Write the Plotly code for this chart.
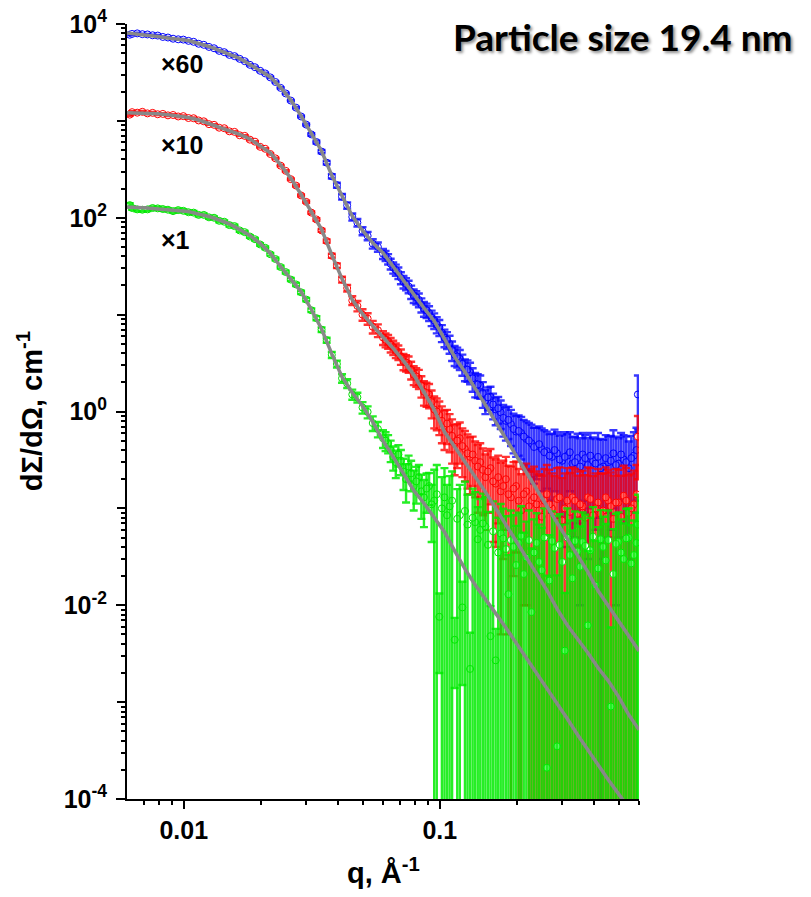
import math
import plotly.graph_objects as go

# ---------------- data ----------------
q = [0.00615, 0.006283, 0.006579, 0.006889, 0.007214, 0.007554, 0.007910, 0.008282, 0.008673, 0.009081,
     0.009510, 0.009958, 0.01043, 0.01092, 0.01143, 0.01197, 0.01254, 0.01313, 0.01375, 0.01439,
     0.01507, 0.01578, 0.01653, 0.01730, 0.01812, 0.01897, 0.01987, 0.02080, 0.02178, 0.02281,
     0.02389, 0.02501, 0.02619, 0.02743, 0.02872, 0.03007, 0.03149, 0.03297, 0.03453, 0.03615,
     0.03786, 0.03964, 0.04151, 0.04347, 0.04551, 0.04766, 0.04991, 0.05226, 0.05472, 0.05730,
     0.06000, 0.06283, 0.06579, 0.06889, 0.07214, 0.07554, 0.07910, 0.08282, 0.08673, 0.09081,
     0.09510, 0.09958, 0.1043, 0.1092, 0.1143, 0.1197, 0.1254, 0.1313, 0.1375, 0.1439,
     0.1507, 0.1578, 0.1653, 0.1730, 0.1812, 0.1897, 0.1987, 0.2080, 0.2178, 0.2281,
     0.2389, 0.2501, 0.2619, 0.2743, 0.2872, 0.3007, 0.3149, 0.3297, 0.3453, 0.3615,
     0.3786, 0.3964, 0.4151, 0.4347, 0.4551, 0.4766, 0.4991, 0.5226, 0.5472, 0.5730,
     0.5940]

# extra (interleaved) high-q points, where the measured data are dense
q_hi = [0.06140, 0.06429, 0.06732, 0.07049, 0.07382, 0.07730, 0.08094, 0.08475, 0.08875, 0.09292,
        0.09731, 0.1019, 0.1067, 0.1117, 0.1170, 0.1225, 0.1283, 0.1344, 0.1407, 0.1473,
        0.1542, 0.1615, 0.1691, 0.1770, 0.1854, 0.1941, 0.2033, 0.2128, 0.2229, 0.2334,
        0.2445, 0.2559, 0.2680, 0.2807, 0.2939, 0.3077, 0.3222, 0.3374, 0.3533, 0.3699,
        0.3874, 0.4056, 0.4248, 0.4448, 0.4657, 0.4877, 0.5107, 0.5348, 0.5599, 0.5863]

blue_I = [7750, 7900, 8000, 7850, 7800, 7650, 7600, 7350, 7250, 7050,
          6950, 6900, 6700, 6550, 6250, 6100, 5800, 5620, 5280, 5120,
          4800, 4660, 4370, 4130, 3790, 3580, 3290, 3090, 2810, 2520,
          2190, 1920, 1620, 1370, 1110, 915, 725, 605, 482, 370,
          268, 217, 165, 134, 102, 89, 73, 65, 54, 50,
          42.5, 37.5, 30.5, 27, 21.8, 19.5, 15.7, 14.2, 11.5, 10.4,
          8.7, 7.4, 5.8, 5.0, 3.85, 3.5, 2.75, 2.55, 1.95, 1.85,
          1.30, 1.42, 1.05, 0.98, 0.80, 0.74, 0.62, 0.60, 0.52, 0.47,
          0.44, 0.41, 0.39, 0.34, 0.37, 0.31, 0.35, 0.29, 0.33, 0.36,
          0.28, 0.31, 0.34, 0.27, 0.30, 0.37, 0.29, 0.32, 0.26, 0.35,
          1.5]
blue_err = [115, 115, 115, 112, 110, 108, 106, 104, 102, 100,
            98, 96, 94, 92, 88, 86, 82, 80, 76, 74,
            70, 68, 64, 60, 56, 53, 49, 46, 42, 38,
            34, 30, 26, 24, 23, 22, 22, 20, 18, 16,
            14, 13, 11, 10, 8.5, 8, 7, 6.5, 6, 5.5,
            5, 4.6, 4, 3.7, 3.2, 2.9, 2.5, 2.3, 2.0, 1.8,
            1.6, 1.4, 1.2, 1.05, 0.9, 0.82, 0.7, 0.64, 0.55, 0.5,
            0.36, 0.38, 0.33, 0.32, 0.3, 0.3, 0.28, 0.28, 0.27, 0.26,
            0.24, 0.26, 0.23, 0.25, 0.24, 0.27, 0.23, 0.25, 0.26, 0.24,
            0.25, 0.23, 0.26, 0.24, 0.25, 0.27, 0.24, 0.25, 0.23, 0.26,
            0.85]
blue_I_hi = [40.5, 33.5, 29.0, 24.0, 20.8, 17.2, 15.1, 12.6, 11.1, 9.3,
             7.9, 6.5, 5.5, 4.3, 3.7, 3.1, 2.7, 2.2, 1.9, 1.55,
             1.40, 1.18, 1.08, 0.86, 0.82, 0.66, 0.63, 0.55, 0.50, 0.43,
             0.46, 0.38, 0.35, 0.40, 0.32, 0.34, 0.38, 0.30, 0.27, 0.33,
             0.35, 0.29, 0.26, 0.33, 0.31, 0.28, 0.36, 0.30, 0.33, 0.40]
blue_err_hi = [4.8, 4.3, 3.8, 3.4, 3.0, 2.7, 2.4, 2.1, 1.9, 1.7,
               1.5, 1.3, 1.1, 0.98, 0.86, 0.76, 0.67, 0.6, 0.52, 0.46,
               0.37, 0.35, 0.33, 0.31, 0.3, 0.29, 0.28, 0.27, 0.26, 0.25,
               0.24, 0.26, 0.23, 0.25, 0.24, 0.27, 0.23, 0.25, 0.26, 0.24,
               0.25, 0.23, 0.26, 0.24, 0.25, 0.27, 0.24, 0.25, 0.23, 0.28]

red_I = [1160, 1230, 1215, 1240, 1195, 1210, 1170, 1180, 1140, 1150,
         1110, 1120, 1070, 1065, 1010, 990, 925, 910, 850, 840,
         780, 770, 710, 700, 640, 610, 540, 515, 455, 410,
         345, 305, 250, 215, 170, 146, 113, 96, 74, 57.5,
         40.5, 32, 23, 18.8, 14.0, 12.3, 10.0, 9.1, 7.5, 6.9,
         5.8, 5.3, 4.6, 4.1, 3.3, 3.1, 2.4, 2.2, 1.6, 1.5,
         1.05, 0.92, 0.71, 0.66, 0.47, 0.53, 0.41, 0.34, 0.31, 0.30,
         0.21, 0.26, 0.18, 0.15, 0.20, 0.13, 0.17, 0.095, 0.15, 0.12,
         0.11, 0.082, 0.14, 0.10, 0.125, 0.075, 0.12, 0.13, 0.088, 0.105,
         0.13, 0.085, 0.115, 0.095, 0.12, 0.078, 0.115, 0.135, 0.09, 0.11,
         0.55]
red_err = [30, 28, 27, 26, 25, 24, 23, 22, 21, 21,
           20, 19, 18, 17, 16, 15, 14, 13, 12, 11.5,
           11, 10.5, 10, 9.5, 9, 8.5, 8, 7.5, 7, 6.5,
           6, 5.5, 5, 4.5, 4, 3.6, 3.4, 3.0, 2.6, 2.3,
           2.0, 1.8, 1.6, 1.5, 1.45, 1.5, 1.35, 1.25, 1.12, 1.04,
           0.95, 0.87, 0.78, 0.7, 0.63, 0.59, 0.53, 0.49, 0.45, 0.42,
           0.38, 0.35, 0.31, 0.28, 0.25, 0.24, 0.22, 0.2, 0.18, 0.17,
           0.15, 0.15, 0.14, 0.145, 0.14, 0.14, 0.135, 0.13, 0.14, 0.135,
           0.13, 0.135, 0.14, 0.13, 0.135, 0.13, 0.14, 0.135, 0.13, 0.14,
           0.135, 0.13, 0.14, 0.135, 0.13, 0.14, 0.135, 0.14, 0.13, 0.135,
           0.35]
red_I_hi = [5.5, 4.9, 4.3, 3.7, 3.2, 2.7, 2.3, 1.85, 1.55, 1.25,
            1.0, 0.80, 0.75, 0.56, 0.50, 0.44, 0.37, 0.36, 0.27, 0.25,
            0.24, 0.19, 0.21, 0.17, 0.14, 0.16, 0.12, 0.14, 0.105, 0.13,
            0.095, 0.12, 0.11, 0.085, 0.13, 0.10, 0.092, 0.12, 0.11, 0.08,
            0.125, 0.10, 0.088, 0.13, 0.105, 0.115, 0.082, 0.12, 0.10, 0.14]
red_err_hi = [0.91, 0.83, 0.74, 0.67, 0.61, 0.56, 0.5, 0.46, 0.43, 0.4,
              0.36, 0.33, 0.29, 0.27, 0.24, 0.23, 0.21, 0.19, 0.18, 0.165,
              0.15, 0.145, 0.14, 0.14, 0.135, 0.14, 0.135, 0.13, 0.135, 0.14,
              0.13, 0.135, 0.14, 0.13, 0.135, 0.13, 0.14, 0.135, 0.13, 0.14,
              0.135, 0.13, 0.14, 0.135, 0.13, 0.14, 0.135, 0.14, 0.13, 0.14]

green_I = [135, 126, 122, 121, 122, 126, 125, 123, 121, 117,
           120, 118, 114, 113, 107, 107, 101, 100, 93, 91,
           84, 82, 74, 71, 64, 60, 53, 49, 42, 37.5,
           31, 27.5, 23, 20.5, 17.0, 14.3, 11.1, 9.2, 7.0, 5.45,
           3.85, 3.1, 2.2, 1.95, 1.5, 1.4, 1.10, 0.99, 0.76, 0.66,
           0.53, 0.47, 0.34, 0.36, 0.24, 0.27, 0.17, 0.21, 0.13, 0.17,
           0.12, 0.0076, 0.13, 0.105, 0.0044, 0.085, 0.094, 0.0022, 0.072, 0.060,
           0.065, 0.0048, 0.0027, 0.055, 0.038, 0.047, 0.026, 0.052, 0.031, 0.0085,
           0.044, 0.023, 0.00021, 0.046, 0.00035, 0.028, 0.050, 0.019, 0.036, 0.045,
           0.0062, 0.051, 0.024, 0.040, 0.047, 0.021, 0.045, 0.030, 0.050, 0.033,
           0.068]
green_err = [6, 5.5, 5.2, 5, 5, 5, 4.9, 4.8, 4.7, 4.6,
             4.5, 4.4, 4.3, 4.2, 4.0, 3.8, 3.6, 3.4, 3.2, 3.0,
             2.8, 2.6, 2.4, 2.2, 2.0, 1.8, 1.6, 1.5, 1.35, 1.2,
             1.05, 0.95, 0.85, 0.75, 0.65, 0.57, 0.5, 0.44, 0.38, 0.33,
             0.28, 0.25, 0.22, 0.2, 0.18, 0.16, 0.15, 0.14, 0.13, 0.12,
             0.11, 0.10, 0.095, 0.09, 0.085, 0.08, 0.075, 0.07, 0.066, 0.062,
             0.13, 0.0056, 0.13, 0.11, 0.003, 0.09, 0.095, 0.003, 0.075, 0.065,
             0.066, 0.005, 0.003, 0.056, 0.045, 0.048, 0.04, 0.053, 0.042, 0.03,
             0.045, 0.04, 0.02, 0.047, 0.02, 0.04, 0.05, 0.04, 0.042, 0.046,
             0.03, 0.052, 0.04, 0.042, 0.048, 0.04, 0.046, 0.04, 0.05, 0.042,
             0.07]
green_I_hi = [0.50, 0.40, 0.30, 0.31, 0.20, 0.23, 0.19, 0.15, 0.16, 0.11,
              0.14, 0.10, 0.085, 0.12, 0.078, 0.0095, 0.068, 0.080, 0.048, 0.070,
              0.042, 0.058, 0.035, 0.049, 0.0130, 0.040, 0.044, 0.021, 0.047, 0.035,
              0.028, 0.050, 0.018, 0.039, 0.042, 0.0034, 0.033, 0.046, 0.025, 0.041,
              0.037, 0.016, 0.048, 0.029, 0.0009, 0.043, 0.035, 0.049, 0.027, 0.044]
green_err_hi = [0.11, 0.10, 0.095, 0.09, 0.085, 0.08, 0.078, 0.072, 0.07, 0.065,
                0.14, 0.11, 0.09, 0.12, 0.08, 0.008, 0.07, 0.08, 0.055, 0.072,
                0.05, 0.06, 0.045, 0.05, 0.02, 0.045, 0.046, 0.035, 0.048, 0.042,
                0.04, 0.05, 0.035, 0.044, 0.045, 0.01, 0.042, 0.047, 0.04, 0.045,
                0.043, 0.03, 0.048, 0.04, 0.005, 0.045, 0.042, 0.05, 0.04, 0.046]

# model fits (grey lines)
q_fit = [0.006000, 0.006579, 0.007214, 0.007910, 0.008673, 0.009510, 0.01043, 0.01143, 0.01254, 0.01375,
         0.01507, 0.01653, 0.01812, 0.01987, 0.02178, 0.02389, 0.02619, 0.02872, 0.03149, 0.03453,
         0.03786, 0.04151, 0.04551, 0.04991, 0.05472, 0.06000, 0.06579, 0.07214, 0.07910, 0.08673,
         0.09510, 0.1043, 0.1143, 0.1254, 0.1375, 0.1507, 0.1653, 0.1812, 0.1987, 0.2178,
         0.2389, 0.2619, 0.2872, 0.3149, 0.3453, 0.3786, 0.4151, 0.4551, 0.4991, 0.5472,
         0.6000]
blue_fit = [8075, 7880, 7700, 7430, 7170, 7000, 6760, 6290, 5860, 5330,
            4850, 4410, 3820, 3320, 2840, 2210, 1640, 1125, 733, 489,
            273, 168, 104, 74.0, 55.0, 43.4, 31.1, 22.3, 16.0, 11.7,
            8.61, 5.61, 3.66, 2.56, 1.75, 1.17, 0.782, 0.521, 0.348, 0.232,
            0.155, 0.104, 0.0708, 0.0484, 0.0323, 0.0221, 0.0141, 0.00986, 0.00690, 0.00483,
            0.00338]
red_fit = [1215, 1212, 1204, 1182, 1155, 1125, 1085, 1021, 940, 865,
           796, 724, 651, 551, 467, 351, 255, 174, 116, 75.9,
           41.3, 23.4, 14.2, 10.2, 7.65, 5.89, 4.48, 3.33, 2.39, 1.59,
           1.04, 0.616, 0.431, 0.309, 0.216, 0.148, 0.100, 0.0684, 0.0462, 0.0312,
           0.0211, 0.0143, 0.00918, 0.00621, 0.00450, 0.00323, 0.00226, 0.00166, 0.00114, 0.000740,
           0.000518]
green_fit = [129, 128, 126, 123, 120, 119, 116, 109, 103, 94.8,
             86.3, 75.7, 65.6, 54.3, 42.8, 31.4, 23.3, 17.3, 11.3, 7.11,
             3.93, 2.27, 1.56, 1.14, 0.782, 0.498, 0.340, 0.227, 0.153, 0.113,
             0.0817, 0.0572, 0.0364, 0.0237, 0.0162, 0.0114, 0.00824, 0.00585, 0.00409, 0.00286,
             0.00201, 0.00141, 0.000996, 0.000673, 0.000460, 0.000322, 0.000220, 0.000158, 0.000113, 0.0000811,
             0.0000582]

scale_labels = ["×60", "×10", "×1"]
x_tick_vals = [0.01, 0.1]
x_tick_text = ["0.01", "0.1"]
y_tick_vals = [1e-4, 1e-2, 1e0, 1e2, 1e4]
y_tick_text = ["10<sup>-4</sup>", "10<sup>-2</sup>", "10<sup>0</sup>", "10<sup>2</sup>", "10<sup>4</sup>"]
y_unlabelled_decades = [1e-3, 1e-1, 1e1, 1e3]

# ---------------- figure ----------------
series = [
    (q + q_hi, blue_I + blue_I_hi, blue_err + blue_err_hi, "#0000ff", "rgba(0,0,255,0.78)"),
    (q + q_hi, red_I + red_I_hi, red_err + red_err_hi, "#ff0000", "rgba(255,0,0,0.8)"),
    (q + q_hi, green_I + green_I_hi, green_err + green_err_hi, "#00e000", "rgba(0,235,0,0.85)"),
]

fig = go.Figure()
for xs, I, err, col, ecol in series:
    fig.add_trace(go.Scatter(
        x=xs, y=I, mode="markers",
        marker=dict(symbol="circle", size=7, color="white", line=dict(color=col, width=1)),
        hoverinfo="skip", showlegend=False))
    fig.add_trace(go.Scatter(
        x=xs, y=I, mode="markers",
        marker=dict(size=7, opacity=0),
        error_y=dict(type="data", array=err, color=ecol, thickness=2.4, width=4),
        hoverinfo="skip", showlegend=False))

for fit in (blue_fit, red_fit, green_fit):
    fig.add_trace(go.Scatter(x=q_fit, y=fit, mode="lines",
                             line=dict(color="#888888", width=3.5),
                             hoverinfo="skip", showlegend=False))

minor_x = [0.007, 0.008, 0.009, 0.02, 0.03, 0.04, 0.05, 0.06, 0.07, 0.08, 0.09,
           0.2, 0.3, 0.4, 0.5, 0.6]
minor_y = [m * 10.0 ** e for e in range(-4, 4) for m in range(2, 10)]

arial = "Liberation Sans, Arial, sans-serif"
tickfont = dict(family=arial, size=25, color="black", weight="bold")

fig.update_layout(
    width=811, height=897,
    margin=dict(l=127, r=172, t=24, b=98),
    plot_bgcolor="white", paper_bgcolor="white",
    showlegend=False,
    font=dict(family=arial, color="black"),
)
fig.update_xaxes(
    type="log", range=[math.log10(0.006), math.log10(0.6)], automargin=False,
    tickmode="array", tickvals=x_tick_vals, ticktext=x_tick_text,
    ticks="outside", ticklen=8, tickwidth=2, tickcolor="black",
    showline=True, linewidth=2, linecolor="black", ticklabeloverflow="allow",
    showgrid=False, zeroline=False, tickfont=tickfont,
    minor=dict(tickmode="array", tickvals=minor_x, ticks="outside", ticklen=4,
               tickwidth=1.5, tickcolor="black", showgrid=False),
)
fig.update_yaxes(
    type="log", range=[-4, 4], automargin=False,
    tickmode="array", tickvals=y_tick_vals, ticktext=y_tick_text,
    ticks="outside", ticklen=9, tickwidth=2, tickcolor="black", ticklabelstandoff=4,
    showline=True, linewidth=2, linecolor="black", ticklabeloverflow="allow",
    showgrid=False, zeroline=False, tickfont=tickfont,
    minor=dict(tickmode="array", tickvals=minor_y, ticks="outside", ticklen=4,
               tickwidth=1.5, tickcolor="black", showgrid=False),
)
# second (overlaid) y axis only to draw the long ticks of the unlabelled decades
fig.update_layout(yaxis2=dict(
    type="log", range=[-4, 4], overlaying="y", side="left", automargin=False,
    tickmode="array", tickvals=y_unlabelled_decades, showticklabels=False,
    ticks="outside", ticklen=9, tickwidth=2, tickcolor="black",
    showline=False, showgrid=False, zeroline=False,
))
fig.add_trace(go.Scatter(x=[0.01], y=[1.0], yaxis="y2", mode="markers",
                         marker=dict(size=1, opacity=0), hoverinfo="skip", showlegend=False))

titlefont = dict(family=arial, size=29, color="black", weight="bold")
fig.add_annotation(text="q, Å<sup>-1</sup>", xref="paper", yref="paper",
                   x=0.5, y=-0.093, xanchor="center", yanchor="middle",
                   showarrow=False, font=titlefont)
fig.add_annotation(text="dΣ/dΩ, cm<sup>-1</sup>", xref="paper", yref="paper",
                   x=-0.19, y=0.5, xanchor="center", yanchor="middle", textangle=-90,
                   showarrow=False, font=titlefont)

label_y = [0.948, 0.844, 0.721]
for lab, yy in zip(scale_labels, label_y):
    fig.add_annotation(text=lab, xref="paper", yref="paper", x=0.0625, y=yy,
                       xanchor="left", yanchor="middle", showarrow=False,
                       font=dict(family=arial, size=25, color="black", weight="bold"))

fig.add_annotation(text="Particle size 19.4 nm", xref="paper", yref="paper",
                   x=0.969, y=0.984, xanchor="center", yanchor="middle", showarrow=False,
                   font=dict(family="Lato, Open Sans, sans-serif", size=37, color="black",
                             weight="bold", shadow="2px 2px 3px rgba(0,0,0,0.45)"))

# remove the default 8 px page margin so the 811x897 figure fills the window exactly
fig.write_html("out.html", config={"displayModeBar": False},
               post_script="document.body.style.margin='0';document.body.style.overflow='hidden';")
